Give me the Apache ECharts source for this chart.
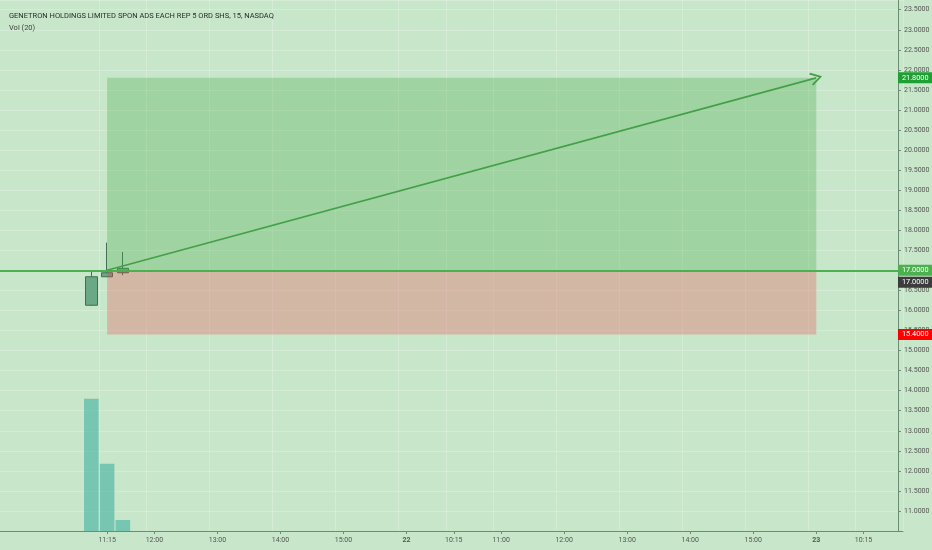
<!DOCTYPE html>
<html>
<head>
<meta charset="utf-8">
<script src="https://cdn.jsdelivr.net/npm/echarts@6/dist/echarts.min.js"></script>
<style>html,body{margin:0;padding:0;background:#c8e6c9;}#c{width:932px;height:550px;}</style>
</head>
<body>
<div id="c"></div>
<script>
// ---- data ----
const sessionDays = ['19', '22', '23'];
const sessionTimes = ['09:30','09:45','10:00','10:15','10:30','10:45','11:00','11:15','11:30','11:45',
  '12:00','12:15','12:30','12:45','13:00','13:15','13:30','13:45','14:00','14:15','14:30','14:45',
  '15:00','15:15','15:30','15:45'];
const lastDayBars = 6;
const xTickLabels = ['19 11:15','19 12:00','19 13:00','19 14:00','19 15:00','22 09:30','22 10:15',
  '22 11:00','22 12:00','22 13:00','22 14:00','22 15:00','23 09:30','23 10:15'];

const candleTimes = ['19 11:00', '19 11:15', '19 11:30'];
const opens  = [16.13, 16.84, 16.94];
const closes = [16.84, 16.94, 17.05];
const lows   = [16.11, 16.84, 16.88];
const highs  = [16.97, 17.69, 17.46];
const volumes = [1320000, 670000, 110000];

const entryPrice = 17.0, targetPrice = 21.8, stopPrice = 15.4, lastPrice = 17.0;
const entryTime = '19 11:15', exitTime = '23 09:30';
const title = 'GENETRON HOLDINGS LIMITED SPON ADS EACH REP 5 ORD SHS, 15, NASDAQ';
const subtitle = 'Vol (20)';

// ---- build ----
const categories = [];
sessionDays.forEach((d, di) => {
  const times = di === sessionDays.length - 1 ? sessionTimes.slice(0, lastDayBars) : sessionTimes;
  times.forEach(t => categories.push(d + ' ' + t));
});
const candleData = categories.map(c => {
  const i = candleTimes.indexOf(c);
  return i < 0 ? '-' : [opens[i], closes[i], lows[i], highs[i]];
});
const volData = categories.map(c => {
  const i = candleTimes.indexOf(c);
  return i < 0 ? '-' : volumes[i];
});
const tickSet = new Set(xTickLabels);
const showTick = (idx) => tickSet.has(categories[idx]);

const FONT = 'Roboto';
const hiddenLine = { color: 'rgba(0,0,0,0)', width: 0 };
const priceLabel = (bg, extra) => Object.assign({
  show: true, position: 'end', distance: -5,
  formatter: p => Number(p.value).toFixed(4),
  color: '#fff', backgroundColor: bg, padding: [2, 5, 2, 4],
  fontSize: 7.3, fontFamily: FONT
}, extra || {});

const chart = echarts.init(document.getElementById('c'));
chart.setOption({
  backgroundColor: '#c8e6c9',
  animation: false,
  title: {
    text: title, subtext: subtitle, left: 4, top: 7, itemGap: 4,
    textStyle: { fontSize: 7.5, fontWeight: 'normal', color: '#2b2b2b', fontFamily: FONT },
    subtextStyle: { fontSize: 7.5, color: '#444', fontFamily: FONT }
  },
  grid: { left: -11.1, right: 29.02, top: 0, bottom: 19, outerBoundsMode: 'none', containLabel: false },
  xAxis: {
    type: 'category', data: categories, boundaryGap: true,
    axisLine: { lineStyle: { color: '#6d8c74', width: 1 } },
    axisTick: { show: true, alignWithLabel: true, interval: showTick, length: 3, lineStyle: { color: '#6d8c74' } },
    axisLabel: {
      interval: showTick, fontSize: 7, color: '#555', margin: 6, fontFamily: FONT,
      formatter: v => { const [d, t] = v.split(' '); return t === '09:30' ? '{d|' + d + '}' : t; },
      rich: { d: { fontSize: 7, fontWeight: 'bold', color: '#555', fontFamily: FONT } }
    },
    splitLine: { show: true, interval: showTick, lineStyle: { color: 'rgba(255,255,255,0.22)', width: 1 } }
  },
  yAxis: [{
    type: 'value', position: 'right', offset: -5, min: 10.5, max: 23.742, interval: 0.5,
    axisLine: { show: true, lineStyle: { color: '#6d8c74', width: 1 } },
    axisTick: { show: true, length: 3, lineStyle: { color: '#6d8c74' } },
    axisLabel: { fontSize: 7, color: '#555', margin: 6, fontFamily: FONT, showMinLabel: false, showMaxLabel: false,
      formatter: v => v.toFixed(4) },
    splitLine: { show: true, lineStyle: { color: 'rgba(255,255,255,0.22)', width: 1 } }
  }, {
    type: 'value', show: false, min: 0, max: 5300000, splitLine: { show: false }
  }],
  series: [{
    type: 'bar', name: 'Vol', yAxisIndex: 1, data: volData, barWidth: 14.6,
    itemStyle: { color: 'rgba(38,166,154,0.5)' }, z: 1
  }, {
    type: 'candlestick', name: 'Price', data: candleData, barWidth: 12, z: 2,
    itemStyle: { color: '#6aa886', color0: '#6aa886', borderColor: '#3f6f55', borderColor0: '#3f6f55', borderWidth: 1 }
  }, {
    type: 'line', data: [], z: 3,
    markArea: {
      silent: true, z: 3,
      data: [
        [{ xAxis: entryTime, yAxis: targetPrice, itemStyle: { color: 'rgba(76,175,80,0.32)' } }, { xAxis: exitTime, yAxis: entryPrice }],
        [{ xAxis: entryTime, yAxis: entryPrice, itemStyle: { color: 'rgba(242,54,69,0.27)' } }, { xAxis: exitTime, yAxis: stopPrice }]
      ]
    },
    markLine: {
      silent: true, symbol: ['none', 'none'], z: 6,
      data: [
        { yAxis: lastPrice, lineStyle: hiddenLine, label: priceLabel('rgba(0,0,0,0)', {
            padding: [24, 0, 0, 0], formatter: p => '{a|' + Number(p.value).toFixed(4) + '}',
            rich: { a: { color: '#fff', backgroundColor: '#3c3c3c', padding: [2, 5, 2, 4], fontSize: 7.3, fontFamily: FONT } } }) },
        { yAxis: entryPrice, lineStyle: { color: '#4caf50', width: 2, type: 'solid' }, label: priceLabel('#4caf50') },
        { yAxis: targetPrice, lineStyle: hiddenLine, label: priceLabel('#1ea032') },
        { yAxis: stopPrice, lineStyle: hiddenLine, label: priceLabel('#ff0000') },
        [
          { coord: [entryTime, entryPrice], symbol: 'none', lineStyle: { color: '#43a047', width: 1.6, type: 'solid' }, label: { show: false } },
          { coord: [exitTime, targetPrice], symbol: 'path://M5,0 L10,8.5 L8.9,9.5 L5,2.6 L1.1,9.5 L0,8.5 Z', symbolSize: [13, 12] }
        ]
      ]
    }
  }]
});
</script>
</body>
</html>
